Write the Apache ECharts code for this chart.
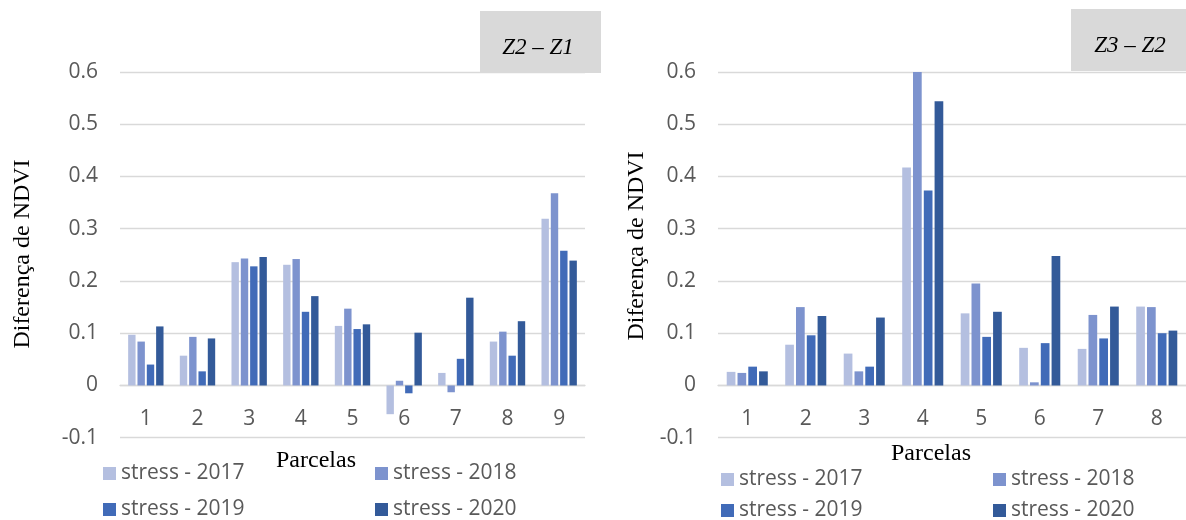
<!DOCTYPE html>
<html>
<head>
<meta charset="utf-8">
<script src="https://cdn.jsdelivr.net/npm/echarts@6/dist/echarts.min.js"></script>
<style>
html,body{margin:0;padding:0;background:#fff;}
#chart{width:1186px;height:520px;}
</style>
</head>
<body>
<div id="chart"></div>
<script>
// ---- data ----
var categoriesLeft = ['1','2','3','4','5','6','7','8','9'];
var categoriesRight = ['1','2','3','4','5','6','7','8'];
var seriesNames = ['stress - 2017','stress - 2018','stress - 2019','stress - 2020'];

// Z2 – Z1
var left2017 = [0.097, 0.057, 0.236, 0.231, 0.114, -0.055, 0.024, 0.084, 0.319];
var left2018 = [0.084, 0.093, 0.243, 0.242, 0.147, 0.009, -0.013, 0.103, 0.368];
var left2019 = [0.040, 0.027, 0.228, 0.141, 0.108, -0.015, 0.051, 0.057, 0.258];
var left2020 = [0.113, 0.090, 0.246, 0.171, 0.117, 0.101, 0.168, 0.123, 0.239];

// Z3 – Z2
var right2017 = [0.026, 0.078, 0.061, 0.417, 0.138, 0.072, 0.070, 0.151];
var right2018 = [0.024, 0.150, 0.027, 0.600, 0.195, 0.006, 0.135, 0.150];
var right2019 = [0.036, 0.096, 0.036, 0.373, 0.093, 0.081, 0.090, 0.100];
var right2020 = [0.027, 0.133, 0.130, 0.544, 0.141, 0.248, 0.151, 0.105];

var yTicks = { min: -0.1, max: 0.6, interval: 0.1 };
var panelTitles = ['Z2 \u2013 Z1', 'Z3 \u2013 Z2'];
var xAxisTitle = 'Parcelas';
var yAxisTitle = 'Diferen\u00e7a de NDVI';

// ---- style ----
var colors = ['#b4bfe0', '#7d93ce', '#416bb8', '#335a99'];
var gridColor = '#d9d9d9';
var labelColor = '#595959';
var sans = '"Open Sans", sans-serif';
var serif = '"Liberation Serif", "Times New Roman", serif';

function fmt(v){ return Math.abs(v) < 1e-9 ? '0' : String(+v.toFixed(1)); }

function makeX(idx, cats){
  return {
    type: 'category', gridIndex: idx, data: cats, position: 'bottom',
    offset: -52,
    axisLine: { onZero: false, lineStyle: { color: gridColor, width: 1.3 } },
    axisTick: { show: false },
    axisLabel: { color: labelColor, fontSize: 21, fontFamily: sans, margin: 23 },
    splitLine: { show: false }
  };
}
function makeY(idx){
  return {
    type: 'value', gridIndex: idx, min: yTicks.min, max: yTicks.max, interval: yTicks.interval,
    axisLine: { show: false }, axisTick: { show: false },
    axisLabel: { color: labelColor, fontSize: 21, fontFamily: sans, margin: 22, formatter: fmt },
    splitLine: { lineStyle: { color: gridColor, width: 1.3 } }
  };
}

var leftData = [left2017, left2018, left2019, left2020];
var rightData = [right2017, right2018, right2019, right2020];
var series = [];
seriesNames.forEach(function(n, i){
  series.push({ name: n, type: 'bar', xAxisIndex: 0, yAxisIndex: 0, data: leftData[i],
    barWidth: 7.4, barGap: '26%', itemStyle: { color: colors[i] } });
});
seriesNames.forEach(function(n, i){
  series.push({ name: n, type: 'bar', xAxisIndex: 1, yAxisIndex: 1, data: rightData[i],
    barWidth: 8.7, barGap: '24%', itemStyle: { color: colors[i] } });
});

function legendItem(name, x, y){
  return { data: [name], left: x, top: y, padding: 0, selectedMode: false, icon: 'rect',
    itemWidth: 13, itemHeight: 13, itemGap: 5,
    textStyle: { color: labelColor, fontSize: 21, fontFamily: sans } };
}
var legends = [
  legendItem(seriesNames[0], 103, 463),
  legendItem(seriesNames[1], 375, 463),
  legendItem(seriesNames[2], 103, 499),
  legendItem(seriesNames[3], 375, 499),
  legendItem(seriesNames[0], 721, 469),
  legendItem(seriesNames[1], 993, 469),
  legendItem(seriesNames[2], 721, 500),
  legendItem(seriesNames[3], 993, 500)
];

var graphics = [
  { type: 'rect', left: 480, top: 11, shape: { width: 121, height: 62 }, style: { fill: '#d9d9d9' }, z: 10 },
  { type: 'text', x: 538, y: 48, style: { text: panelTitles[0], fontFamily: serif, fontStyle: 'italic', fontSize: 23, fill: '#000', textAlign: 'center', textVerticalAlign: 'middle' }, z: 11 },
  { type: 'rect', left: 1071, top: 9, shape: { width: 120, height: 62 }, style: { fill: '#d9d9d9' }, z: 10 },
  { type: 'text', x: 1130, y: 46, style: { text: panelTitles[1], fontFamily: serif, fontStyle: 'italic', fontSize: 23, fill: '#000', textAlign: 'center', textVerticalAlign: 'middle' }, z: 11 },
  { type: 'text', x: 316, y: 461, style: { text: xAxisTitle, fontFamily: serif, fontSize: 24, fill: '#000', textAlign: 'center', textVerticalAlign: 'middle' } },
  { type: 'text', x: 931, y: 454, style: { text: xAxisTitle, fontFamily: serif, fontSize: 24, fill: '#000', textAlign: 'center', textVerticalAlign: 'middle' } },
  { type: 'text', x: 23, y: 254, rotation: Math.PI/2, style: { text: yAxisTitle, fontFamily: serif, fontSize: 24, fill: '#000', textAlign: 'center', textVerticalAlign: 'middle' } },
  { type: 'text', x: 637, y: 246, rotation: Math.PI/2, style: { text: yAxisTitle, fontFamily: serif, fontSize: 24, fill: '#000', textAlign: 'center', textVerticalAlign: 'middle' } }
];

var chart = echarts.init(document.getElementById('chart'), null, { renderer: 'canvas' });
chart.setOption({
  animation: false,
  backgroundColor: '#fff',
  grid: [
    { left: 120, right: 601, top: 72, bottom: 82.3 },
    { left: 718, right: -5.6, top: 72, bottom: 82.3 }
  ],
  xAxis: [makeX(0, categoriesLeft), makeX(1, categoriesRight)],
  yAxis: [makeY(0), makeY(1)],
  legend: legends,
  series: series,
  graphic: graphics
});
</script>
</body>
</html>
